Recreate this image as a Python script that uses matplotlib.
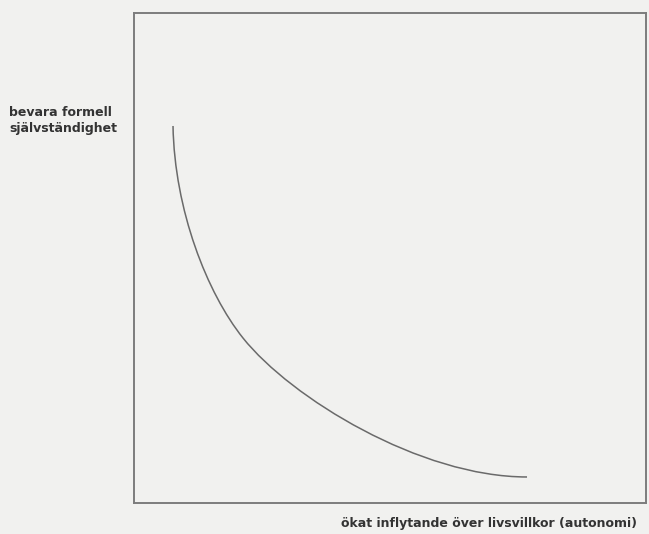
import matplotlib
matplotlib.use('Agg')
import matplotlib.pyplot as plt
from matplotlib.path import Path
from matplotlib.patches import PathPatch
import numpy as np

curve_x = [0.0762, 0.0791, 0.1426, 0.2129, 0.3066, 0.5586, 0.7676]
curve_y = [0.7694, 0.5980, 0.4286, 0.3367, 0.2143, 0.0531, 0.0531]

ylabel_text = "bevara formell\nsjälvständighet"
xlabel_text = "ökat inflytande över livsvillkor (autonomi)"

bg = '#f1f1ef'
fig = plt.figure(figsize=(6.49, 5.34), dpi=100, facecolor=bg)
W, H = 649.0, 534.0
ax = fig.add_axes([134/W, 1-503/H, 512/W, 490/H], facecolor=bg)

codes = [Path.MOVETO] + [Path.CURVE4] * 6
path = Path(np.column_stack([curve_x, curve_y]), codes)
ax.add_patch(PathPatch(path, facecolor='none', edgecolor='#6a6a6a', lw=1.1))

ax.set_xlim(0, 1)
ax.set_ylim(0, 1)
ax.set_xticks([])
ax.set_yticks([])
for s in ax.spines.values():
    s.set_color('#7c7c7c')
    s.set_linewidth(1.4)

fig.text(9/W, 1-106/H, ylabel_text, ha='left', va='top', fontsize=9,
         fontweight='bold', color='#333333', linespacing=1.3)
fig.text(637/W, 1-523/H, xlabel_text, ha='right', va='center', fontsize=9,
         fontweight='bold', color='#333333')

fig.savefig('out.png', dpi=100, facecolor=bg)
